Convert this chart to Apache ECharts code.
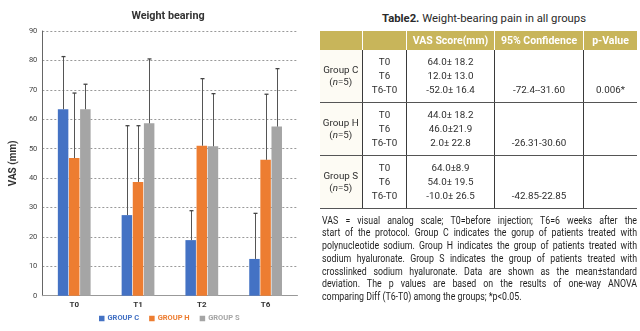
<!DOCTYPE html>
<html><head><meta charset="utf-8">
<script src="https://cdn.jsdelivr.net/npm/echarts@6/dist/echarts.min.js"></script>
<style>
html,body{margin:0;padding:0;background:#fff;width:640px;height:331px;overflow:hidden;font-family:Roboto,"Noto Sans",sans-serif;}
#chart{position:absolute;left:0;top:0;width:320px;height:331px;}
#ttl{position:absolute;left:320px;width:328px;top:12px;text-align:center;font-size:11.3px;color:#2a2a2a;white-space:nowrap;line-height:14px;}
#tbl{position:absolute;left:319.5px;top:31px;border-collapse:collapse;table-layout:fixed;color:#2e2e2e;font-size:9.8px;width:317.5px;}
#tbl th{background:#c8b55a;color:#fff;font-weight:bold;font-size:10.5px;height:19px;padding:0;border-right:1.5px solid #fff;text-align:center;white-space:nowrap;}
#tbl th:last-child{border-right:none;}
#tbl td{height:52px;padding:0;text-align:center;line-height:14px;border-right:1px solid #3a3a3a;border-bottom:1px solid #555;white-space:nowrap;vertical-align:middle;}
#tbl td:last-child{border-right:none;}
#tbl td.g{line-height:12px;background:#fdfbf4;}
#foot{position:absolute;left:322px;top:214.5px;width:358px;transform:scaleX(0.88);transform-origin:0 0;font-size:10px;line-height:12.8px;color:#1e1e1e;}
#foot div{text-align:justify;text-align-last:justify;white-space:nowrap;}
#foot div.last{text-align-last:left;}
</style>
</head><body>
<div id="chart"></div>
<div id="ttl"><b>Table2.</b> Weight-bearing pain in all groups</div>
<table id="tbl"></table>
<div id="foot"></div>
<script>
// ---- chart data ----
const categories = ['T0', 'T1', 'T2', 'T6'];
const seriesNames = ['GROUP C', 'GROUP H', 'GROUP S'];
const groupC = [63.4, 27.4, 18.9, 12.5];
const groupH = [46.8, 38.7, 51.0, 46.2];
const groupS = [63.4, 58.6, 50.8, 57.5];
const sdC = [17.9, 30.4, 10.0, 15.5];
const sdH = [22.1, 19.1, 22.8, 22.3];
const sdS = [8.5, 21.9, 17.9, 19.7];
const yTicks = [0, 10, 20, 30, 40, 50, 60, 70, 80, 90];

// ---- table data ----
const tblHeader = ['', '', 'VAS Score(mm)', '95% Confidence', 'p-Value'];
const tblGroups = ['Group C', 'Group H', 'Group S'];
const tblN = ['(<i>n</i>=5)', '(<i>n</i>=5)', '(<i>n</i>=5)'];
const tblTimes = ['T0', 'T6', 'T6-T0'];
const tblVas = [
  ['64.0± 18.2', '12.0± 13.0', '-52.0± 16.4'],
  ['44.0± 18.2', '46.0±21.9', '2.0± 22.8'],
  ['64.0±8.9', '54.0± 19.5', '-10.0± 26.5']
];
const tblCI = ['-72.4--31.60', '-26.31-30.60', '-42.85-22.85'];
const tblP = ['0.006*', '', ''];
const footLines = [
  'VAS = visual analog scale; T0=before injection; T6=6 weeks after the',
  'start of the protocol. Group C indicates the gorup of patients treated with',
  'polynucleotide sodium. Group H indicates the group of patients treated with',
  'sodium hyaluronate. Group S indicates the group of patients treated with',
  'crosslinked sodium hyaluronate. Data are shown as the mean\u00b1standard',
  'deviation. The p values are based on the results of one-way ANOVA',
  'comparing Diff (T6-T0) among the groups; *p<0.05.'
];

// build table
let html = '<colgroup><col style="width:43px"><col style="width:44px"><col style="width:88px"><col style="width:89px"><col style="width:53.5px"></colgroup>';
html += '<tr>' + tblHeader.map(h => '<th>' + h + '</th>').join('') + '</tr>';
for (let g = 0; g < tblGroups.length; g++) {
  html += '<tr>' +
    '<td class="g">' + tblGroups[g] + '<br>' + tblN[g] + '</td>' +
    '<td>' + tblTimes.join('<br>') + '</td>' +
    '<td>' + tblVas[g].join('<br>') + '</td>' +
    '<td>&nbsp;<br>&nbsp;<br>' + tblCI[g] + '</td>' +
    '<td>&nbsp;<br>&nbsp;<br>' + (tblP[g] || '&nbsp;') + '</td>' +
    '</tr>';
}
document.getElementById('tbl').innerHTML = html;
document.getElementById('foot').innerHTML = footLines.map((l, i) =>
  '<div' + (i === footLines.length - 1 ? ' class="last"' : '') + '>' + l.replace(/</g, '&lt;') + '</div>').join('');

// chart
const colors = ['#4472C4', '#ED7D31', '#A5A5A5'];
const means = [groupC, groupH, groupS];
const sds = [sdC, sdH, sdS];
const offsets = [-11.1, 0, 11.1];
const series = [];
means.forEach((m, k) => {
  series.push({
    name: seriesNames[k], type: 'bar', data: m, barWidth: 10.5, barGap: '6%',
    itemStyle: { color: colors[k] }, z: 2
  });
});
means.forEach((m, k) => {
  series.push({
    name: 'err' + k, type: 'custom', z: 3,
    data: m.map((v, i) => [i, v, +(v + sds[k][i]).toFixed(1)]),
    encode: { x: 0, y: [1, 2] },
    renderItem: function (params, api) {
      const i = api.value(0);
      const top = api.coord([i, api.value(2)]);
      const base = api.coord([i, api.value(1)]);
      const x = Math.round(top[0] + offsets[k]) + 0.5;
      return {
        type: 'group', children: [
          { type: 'line', shape: { x1: x, y1: base[1], x2: x, y2: top[1] }, style: { stroke: '#555', lineWidth: 1 } },
          { type: 'line', shape: { x1: x - 2, y1: top[1], x2: x + 2, y2: top[1] }, style: { stroke: '#444', lineWidth: 1.3 } }
        ]
      };
    }
  });
});

const chart = echarts.init(document.getElementById('chart'));
chart.setOption({
  animation: false,
  title: {
    text: 'Weight bearing', left: 168, top: 10.5, textAlign: 'center', padding: 0,
    textStyle: { fontSize: 10.8, fontWeight: 'bold', color: '#333', fontFamily: 'Roboto' }
  },
  legend: {
    data: seriesNames.map((n, k) => ({ name: n, textStyle: { color: colors[k] } })),
    left: 99, top: 314.5, padding: 0, itemWidth: 5.5, itemHeight: 5.5, itemGap: 10,
    icon: 'rect',
    textStyle: { fontSize: 7.5, fontWeight: 'bold', fontFamily: 'Roboto', padding: [0, 0, 0, -2] }
  },
  grid: { left: 37.5, right: 22.5, top: 31, bottom: 35.3, containLabel: false },
  xAxis: {
    type: 'category', data: categories,
    axisLine: { lineStyle: { color: '#999', width: 1 } },
    axisTick: { show: false },
    axisLabel: { fontSize: 8, fontWeight: 'bold', color: '#333', margin: 5, fontFamily: 'Roboto' }
  },
  yAxis: {
    type: 'value', min: yTicks[0], max: yTicks[yTicks.length - 1], interval: 10,
    name: 'VAS (mm)', nameLocation: 'middle', nameGap: 19,
    nameTextStyle: { fontSize: 10, fontWeight: 'bold', color: '#333', fontFamily: 'Roboto' },
    axisLine: { show: true, lineStyle: { color: '#666', width: 1 } },
    axisTick: { show: false },
    axisLabel: { fontSize: 7.5, color: '#444', margin: 5, fontFamily: 'Roboto' },
    splitLine: { lineStyle: { color: '#999', type: [2, 2], width: 1 } }
  },
  series: series
});
</script>
</body></html>
